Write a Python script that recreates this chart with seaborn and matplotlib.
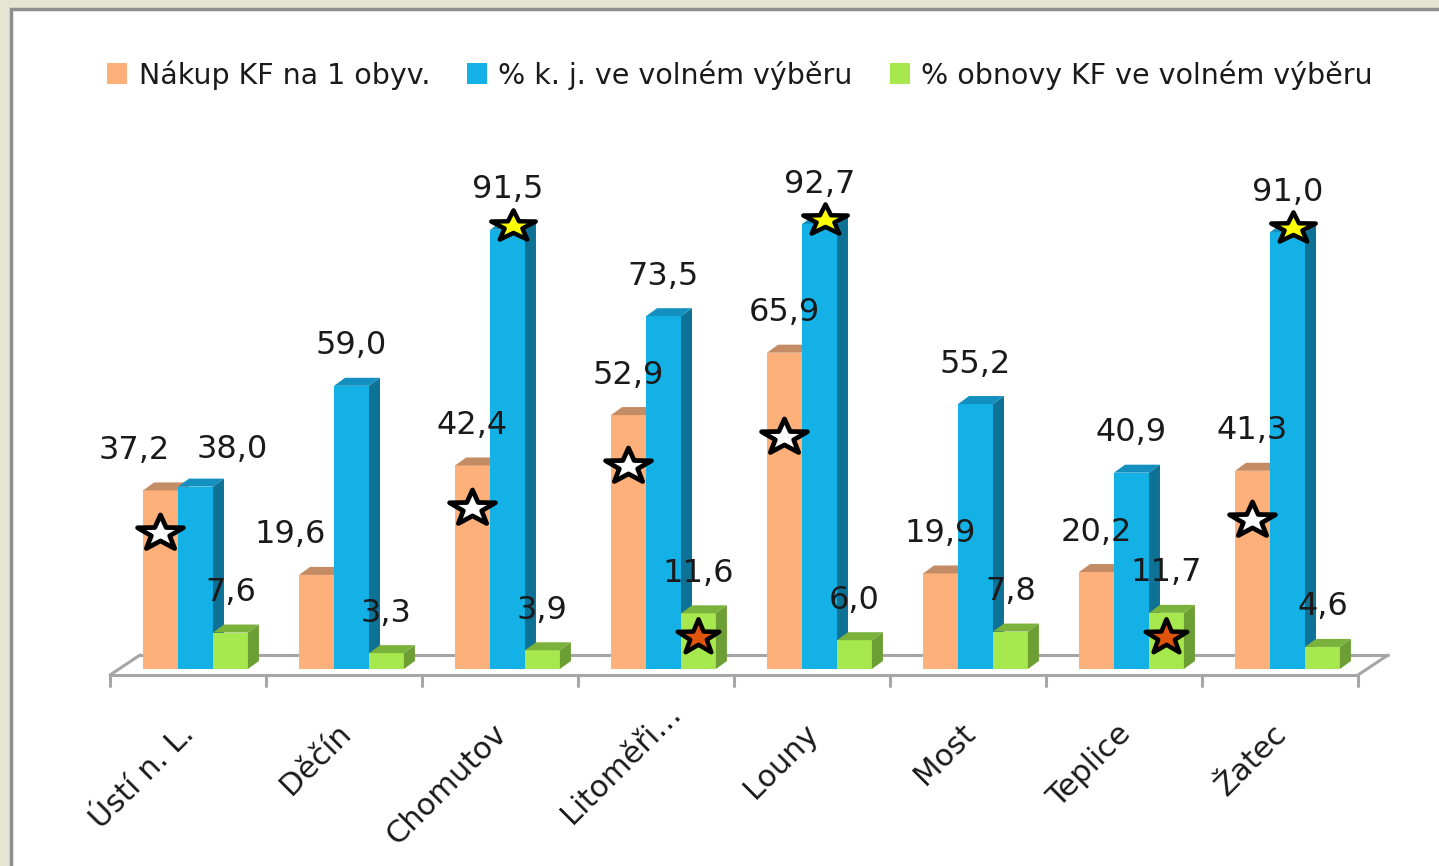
import numpy as np
import pandas as pd
import matplotlib
matplotlib.use("Agg")
import matplotlib.pyplot as plt
import seaborn as sns
from matplotlib.patches import Polygon, Rectangle, Patch
from matplotlib.path import Path

# ---------------- data ----------------
regions = ["Ústí n. L.", "Děčín", "Chomutov", "Litoměři…", "Louny", "Most", "Teplice", "Žatec"]
series = ["Nákup KF na 1 obyv.", "% k. j. ve volném výběru", "% obnovy KF ve volném výběru"]
nakup = [37.2, 19.6, 42.4, 52.9, 65.9, 19.9, 20.2, 41.3]
kj_volny = [38.0, 59.0, 91.5, 73.5, 92.7, 55.2, 40.9, 91.0]
obnova_volny = [7.6, 3.3, 3.9, 11.6, 6.0, 7.8, 11.7, 4.6]

# star markers (height, None = no star)
star_nakup = [28.3, None, 33.5, 42.3, 48.3, None, None, 31.0]
star_kj_top = [False, False, True, False, True, False, False, True]
star_obnova = [None, None, None, 6.7, None, None, 6.7, None]

# ---------------- style ----------------
front_colors = ["#FDB07A", "#14B1E7", "#A7E84F"]
side_colors = ["#C48C64", "#0E7196", "#6C9E33"]
top_colors = ["#C48C64", "#1390C0", "#7BB23C"]
FS_LEG = 20.5
FS_VAL = 23
FS_CAT = 22


def star_marker(stretch):
    base = Path.unit_regular_star(5, innerCircle=0.40)
    v = base.vertices.copy()
    v[:, 0] *= stretch
    return Path(v, base.codes)


STAR_W = star_marker(1.3)
STAR_Y = star_marker(1.45)
STAR_R = star_marker(1.2)

sns.set_theme(style="white")
plt.rcParams["font.family"] = ["DejaVu Sans"]

W, H = 1439, 866
fig = plt.figure(figsize=(W / 100, H / 100), dpi=100)
fig.patch.set_facecolor("#E6E5D3")
fig.patches.append(Rectangle((11 / W, -0.1), 1.2, 1.1 - 9 / H, transform=fig.transFigure,
                             facecolor="white", edgecolor="#8E8E8E", linewidth=2.5, zorder=-10))

ax = fig.add_axes([110 / W, (H - 669) / H, 1248 / W, 480 / H])
ax.patch.set_alpha(0)

df = pd.DataFrame({
    "region": regions * 3,
    "series": np.repeat(series, len(regions)),
    "value": nakup + kj_volny + obnova_volny,
})
sns.barplot(data=df, x="region", y="value", hue="series", order=regions, hue_order=series,
            palette=front_colors, width=0.672, gap=0, saturation=1, errorbar=None,
            legend=False, linewidth=0, ax=ax)
ax.set_xlim(-0.5, 7.5)
ax.set_ylim(0, 100)
ax.axis("off")

# pixel -> data conversion
PX = 8 / 1248
PY = 100 / 480
DX, DY = 11 * PX, 8 * PY
shift = 7.5 * PX

label_dx = {(0, 0): -26, (0, 1): -26, (1, 0): 37}
label_dy = {(1, 0): -3}
value_lists = [nakup, kj_volny, obnova_volny]
n = len(regions)
patches = list(ax.patches)
for h in range(3):
    for i in range(n):
        p = patches[h * n + i]
        p.set_x(p.get_x() + shift)
        p.set_zorder(2 + h)
        x0, w, v = p.get_x(), p.get_width(), p.get_height()
        side = Polygon([(x0 + w, 0), (x0 + w + DX, DY), (x0 + w + DX, v + DY), (x0 + w, v)],
                       closed=True, facecolor=side_colors[h], edgecolor="none", zorder=2 + h)
        top = Polygon([(x0, v), (x0 + DX, v + DY), (x0 + w + DX, v + DY), (x0 + w, v)],
                      closed=True, facecolor=top_colors[h], edgecolor="none", zorder=2 + h)
        ax.add_patch(side)
        ax.add_patch(top)
        cx = x0 + w / 2
        ax.annotate(f"{value_lists[h][i]:.1f}".replace(".", ","), (cx, v),
                    xytext=(label_dx.get((h, i), 0) * 0.72, (40 + label_dy.get((h, i), 0)) * 0.72),
                    textcoords="offset points",
                    ha="center", va="center", fontsize=FS_VAL, color="#1a1a1a", zorder=20)
        if h == 0 and star_nakup[i] is not None:
            ax.plot(cx - 1 * PX, star_nakup[i], marker=STAR_W, ms=33, mfc="white", mec="black",
                    mew=3.4, zorder=10, clip_on=False)
        if h == 1 and star_kj_top[i]:
            ax.plot(cx + DX / 2, v + DY / 2, marker=STAR_Y, ms=32, mfc="#FFFF00", mec="black",
                    mew=3.2, zorder=10, clip_on=False)
        if h == 2 and star_obnova[i] is not None:
            ax.plot(cx, star_obnova[i], marker=STAR_R, ms=30, mfc="#E0540E", mec="black",
                    mew=3.2, zorder=10, clip_on=False)

# 3D floor
fc = "#A6A6A6"
flw = 2.2
fy, by, bx = -6 * PY, 14 * PY, 30 * PX
ax.plot([-0.5, 7.5], [fy, fy], color=fc, lw=flw, clip_on=False, zorder=1)
ax.plot([-0.5 + bx, 7.5 + bx], [by, by], color=fc, lw=flw, clip_on=False, zorder=1)
ax.plot([-0.5, -0.5 + bx], [fy, by], color=fc, lw=flw, clip_on=False, zorder=1)
ax.plot([7.5, 7.5 + bx], [fy, by], color=fc, lw=flw, clip_on=False, zorder=1)
for k in range(n + 1):
    ax.plot([k - 0.5, k - 0.5], [fy, -17 * PY], color=fc, lw=flw, clip_on=False, zorder=1)

# category labels
cat_offset = {3: (18, 20)}
for i, r in enumerate(regions):
    ox, oy = cat_offset.get(i, (0, 0))
    ax.text(i + (2 + ox) * PX, (-60 + oy) * PY, r, rotation=45, ha="right", va="center",
            rotation_mode="anchor", fontsize=FS_CAT, color="#1a1a1a", clip_on=False)

# legend
handles = [Patch(facecolor=c, edgecolor="none") for c in front_colors]
fig.legend(handles, series, loc="center", bbox_to_anchor=(740 / W, 1 - 75 / H), ncol=3,
           frameon=False, fontsize=FS_LEG, handlelength=0.7, handleheight=0.75,
           handletextpad=0.4, columnspacing=1.3, labelcolor="#1a1a1a")

fig.savefig("out.png", dpi=100, facecolor=fig.get_facecolor())
